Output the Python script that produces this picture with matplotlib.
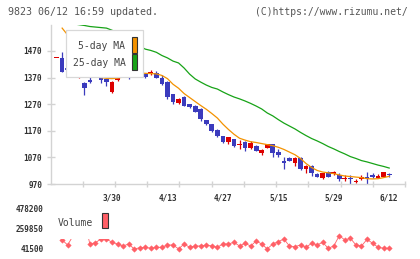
import numpy as np
import matplotlib
matplotlib.use("Agg")
import matplotlib.pyplot as plt
from matplotlib.patches import Rectangle

# ---- data (9823, daily) ----
opens = [1442, 1444, 1403, 1415, 1372, 1351, 1360, 1383, 1390, 1363,
         1317, 1360, 1392, 1411, 1382, 1390, 1385, 1386, 1389, 1370,
         1355, 1308, 1273, 1298, 1269, 1264, 1251, 1210, 1195, 1173,
         1150, 1129, 1139, 1115, 1129, 1104, 1114, 1088, 1106, 1120,
         1091, 1056, 1066, 1050, 1069, 1026, 1038, 1007, 994, 1016,
         1009, 1004, 988, 990, 978, 988, 997, 1004, 994, 997, 1005]
highs = [1442, 1467, 1422, 1424, 1401, 1355, 1383, 1393, 1392, 1366,
         1357, 1408, 1415, 1418, 1410, 1392, 1387, 1398, 1395, 1378,
         1358, 1310, 1292, 1300, 1272, 1266, 1254, 1212, 1197, 1175,
         1152, 1147, 1141, 1135, 1131, 1133, 1116, 1100, 1122, 1122,
         1100, 1073, 1073, 1071, 1071, 1041, 1040, 1010, 1012, 1018,
         1020, 1013, 1004, 1004, 990, 1003, 1014, 1010, 1007, 1016, 1013]
lows = [1442, 1390, 1392, 1388, 1370, 1305, 1351, 1378, 1350, 1340,
        1311, 1357, 1388, 1365, 1375, 1375, 1370, 1380, 1367, 1343,
        1290, 1272, 1270, 1262, 1257, 1240, 1208, 1190, 1166, 1148,
        1125, 1120, 1110, 1100, 1094, 1100, 1093, 1079, 1104, 1073,
        1073, 1026, 1055, 1039, 1024, 1012, 1000, 995, 988, 996,
        1002, 980, 980, 970, 975, 984, 970, 992, 992, 995, 997]
closes = [1442, 1391, 1400, 1405, 1375, 1332, 1355, 1390, 1361, 1352,
          1355, 1405, 1411, 1367, 1398, 1378, 1374, 1389, 1370, 1345,
          1298, 1280, 1290, 1264, 1260, 1242, 1215, 1195, 1169, 1152,
          1129, 1145, 1114, 1118, 1104, 1123, 1095, 1098, 1120, 1085,
          1079, 1048, 1058, 1069, 1026, 1039, 1013, 998, 1010, 998,
          1011, 989, 990, 988, 980, 997, 989, 995, 1000, 1014, 1003]

ma5 = [np.nan, 1556, 1530, 1495, 1455, 1420, 1395, 1376, 1370, 1367,
       1366, 1368, 1372, 1378, 1385, 1387, 1386, 1385, 1384, 1378,
       1366, 1345, 1330, 1310, 1295, 1280, 1265, 1251, 1235, 1218,
       1195, 1175, 1157, 1142, 1135, 1129, 1126, 1122, 1118, 1114,
       1108, 1100, 1090, 1080, 1066, 1047, 1032, 1021, 1015, 1012,
       1009, 1004, 1000, 998, 996, 994, 990, 989, 990, 994, 999]
ma25 = [np.nan, 1580, 1576, 1572, 1569, 1566, 1562, 1560, 1558, 1556,
        1548, 1538, 1526, 1512, 1500, 1488, 1477, 1472, 1465, 1453,
        1444, 1432, 1425, 1406, 1383, 1365, 1353, 1342, 1333, 1327,
        1316, 1306, 1297, 1290, 1282, 1273, 1263, 1252, 1237, 1226,
        1212, 1199, 1188, 1177, 1164, 1152, 1141, 1132, 1122, 1111,
        1102, 1092, 1083, 1073, 1066, 1058, 1053, 1047, 1041, 1036, 1030]

volume = [np.nan, 140000, 85000, 190000, 478200, 360000, 96000, 110300, 150700, 150000,
          114600, 96000, 74300, 96000, 41500, 55700, 60100, 49100, 60100, 60100,
          85200, 85200, 43000, 96100, 60100, 74300, 74300, 85200, 74300, 60100,
          96100, 96100, 114600, 74300, 103700, 74300, 128800, 96100, 43000, 96100,
          121200, 150700, 74300, 66600, 85200, 60100, 103700, 85200, 114600, 49100,
          74300, 186700, 139800, 158300, 85200, 74300, 147400, 103700, 60100, 49100, 49100]

date_pos = [10, 20, 30, 40, 50, 60]
date_labels = ["3/30", "4/13", "4/27", "5/15", "5/29", "6/12"]
price_ticks = [970, 1070, 1170, 1270, 1370, 1470]
vol_ticks = [41500, 259850, 478200]

UP = "#dd0000"
DOWN = "#3b3bbd"
ORANGE = "#f39200"
GREEN = "#17a317"
VOLC = "#ff5f66"
AXC = "#d3d3d3"
TXT = "#333333"
MONO = "DejaVu Sans Mono"

W, H = 420, 259


def fx(px):
    return px / W


def fy(py):
    return 1 - py / H


fig = plt.figure(figsize=(W / 100, H / 100), dpi=100)
ax = fig.add_axes([fx(50.5), fy(184), fx(405) - fx(50.5), fy(25) - fy(184)])
vax = fig.add_axes([fx(50.5), fy(253), fx(405) - fx(50.5), fy(205) - fy(253)], sharex=ax)

o = np.array(opens, float)
c = np.array(closes, float)
x = np.arange(len(o))
cols = np.where(c >= o, UP, DOWN)

ax.vlines(x, lows, highs, colors=cols, lw=0.9, zorder=2)
ax.bar(x, np.maximum(np.abs(c - o), 5), bottom=np.minimum(o, c), width=0.85,
       color=cols, zorder=3)
ax.plot(x, ma25, color=GREEN, lw=0.9, zorder=4)
ax.plot(x, ma5, color=ORANGE, lw=0.9, zorder=4)

ax.set_xlim(-1.1, 62.85)
ax.set_ylim(970, 1567.7)
for s in ["top", "right"]:
    ax.spines[s].set_visible(False)
for s in ["left", "bottom"]:
    ax.spines[s].set_color(AXC)
    ax.spines[s].set_linewidth(1.0)

ax.set_yticks(price_ticks)
ax.set_yticklabels([str(v) for v in price_ticks])
ax.tick_params(axis="y", direction="inout", length=6, width=1, color=AXC,
               labelsize=5.6, labelcolor=TXT, pad=3)
ax.set_xticks(np.linspace(-1.1, 62.85, 12)[1:])
ax.set_xticklabels([])
ax.set_xticks(date_pos, minor=True)
ax.set_xticklabels(date_labels, minor=True)
ax.tick_params(axis="x", which="major", direction="inout", length=5, width=1, color=AXC)
ax.tick_params(axis="x", which="minor", length=0, labelsize=5.6, labelcolor=TXT, pad=6.5)
for lab in ax.get_yticklabels() + ax.get_xticklabels(minor=True):
    lab.set_family(MONO)
    lab.set_weight("bold")

# legend of the price panel
fig.patches.append(Rectangle((fx(65.7), fy(77.3)), fx(143.3) - fx(65.7), fy(30) - fy(77.3),
                             transform=fig.transFigure, facecolor="white",
                             edgecolor="#d8d8d8", lw=0.9, zorder=10))
for label, col, ty, py0, py1 in [("5-day MA", ORANGE, 46, 53.3, 37.3),
                                 ("25-day MA", GREEN, 63, 70, 54)]:
    fig.text(fx(125.5), fy(ty), label, ha="right", va="center", family=MONO,
             fontsize=7, color="#444444", zorder=11)
    fig.patches.append(Rectangle((fx(131.7), fy(py0)), fx(137.3) - fx(131.7), fy(py1) - fy(py0),
                                 transform=fig.transFigure, facecolor=col,
                                 edgecolor="#333333", lw=0.8, zorder=11))

# volume panel
vax.plot(x, volume, color=VOLC, lw=0.6, marker="D", ms=2.8, mec=VOLC, mew=0.3, zorder=2)
vax.set_ylim(41500 - 4 * 10917.5, 478200 + 4 * 10917.5)
for s in vax.spines.values():
    s.set_visible(False)
vax.set_yticks(vol_ticks)
vax.set_yticklabels([str(v) for v in vol_ticks])
vax.tick_params(axis="y", length=0, labelsize=5.6, labelcolor=TXT, pad=5)
vax.tick_params(axis="x", which="both", length=0, labelbottom=False)
for lab in vax.get_yticklabels():
    lab.set_family(MONO)
    lab.set_weight("bold")

fig.patches.append(Rectangle((fx(55), fy(239)), fx(112) - fx(55), fy(206) - fy(239),
                             transform=fig.transFigure, facecolor="white",
                             edgecolor="none", zorder=10))
fig.text(fx(58), fy(223), "Volume", ha="left", va="center", family=MONO,
         fontsize=7, color="#444444", zorder=11)
fig.patches.append(Rectangle((fx(101.7), fy(228)), fx(107.7) - fx(101.7), fy(213) - fy(228),
                             transform=fig.transFigure, facecolor=VOLC,
                             edgecolor="#333333", lw=0.8, zorder=11))

fig.text(fx(8), fy(12), "9823 06/12 16:59 updated.", ha="left", va="center",
         family=MONO, fontsize=7.2, color="#555555")
fig.text(fx(255), fy(12), "(C)https://www.rizumu.net/", ha="left", va="center",
         family=MONO, fontsize=7.0, color="#555555")

fig.savefig("out.png", dpi=100, facecolor="white")
